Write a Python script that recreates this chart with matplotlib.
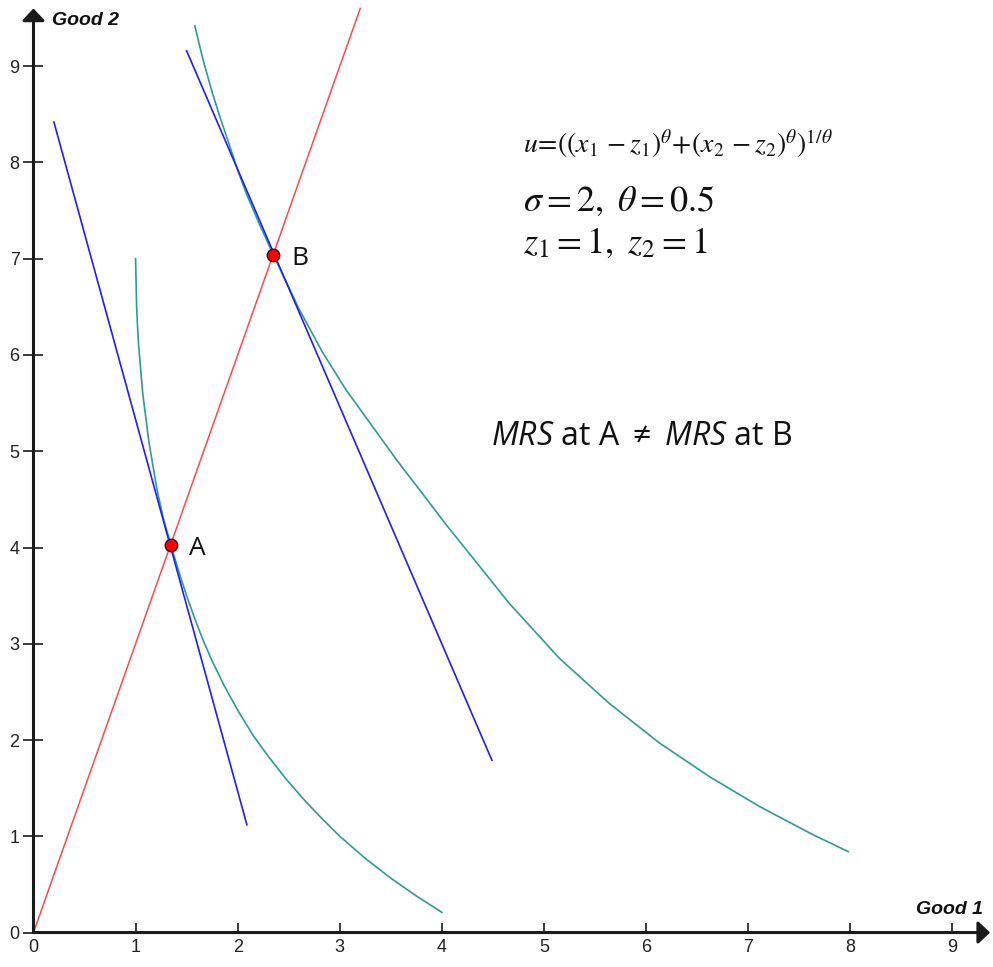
import matplotlib
matplotlib.use("Agg")
import matplotlib.pyplot as plt

# Ray from the origin through A and B
RAY_X = [0.0, 3.2]
RAY_Y = [0.0, 9.6]

# Budget (tangent) lines
BUDGET_A_X = [0.20, 2.09]
BUDGET_A_Y = [8.42, 1.12]
BUDGET_B_X = [1.50, 4.49]
BUDGET_B_Y = [9.16, 1.79]

# Indifference curves
IC_LOW_X = [1.00, 1.005, 1.01, 1.02, 1.03, 1.05, 1.07, 1.10, 1.13, 1.17, 1.21, 1.27, 1.345,
            1.40, 1.45, 1.51, 1.58, 1.66, 1.75, 1.87, 2.00, 2.15, 2.30, 2.47, 2.65, 2.82,
            3.00, 3.25, 3.50, 3.75, 4.00]
IC_LOW_Y = [7.00, 6.75, 6.50, 6.28, 6.10, 5.85, 5.60, 5.35, 5.10, 4.85, 4.60, 4.31, 4.03,
            3.83, 3.66, 3.47, 3.26, 3.04, 2.82, 2.56, 2.31, 2.05, 1.83, 1.60, 1.38, 1.19,
            1.00, 0.77, 0.565, 0.38, 0.21]
IC_HIGH_X = [1.58, 1.66, 1.75, 1.83, 1.91, 2.00, 2.08, 2.20, 2.345, 2.60, 2.83, 3.06, 3.55,
             4.04, 4.66, 5.15, 5.64, 6.13, 6.62, 7.11, 7.61, 7.98]
IC_HIGH_Y = [9.42, 9.07, 8.73, 8.46, 8.21, 7.92, 7.69, 7.39, 7.05, 6.48, 6.03, 5.64, 4.92,
             4.24, 3.42, 2.85, 2.38, 1.97, 1.62, 1.31, 1.03, 0.84]

POINT_LABELS = ["A", "B"]
POINT_X = [1.345, 2.345]
POINT_Y = [4.03, 7.04]

TICKS = [0, 1, 2, 3, 4, 5, 6, 7, 8, 9]

AXIS_COLOR = "#1a1a1a"
TEAL = "#2f9a9a"
BLUE = "#1e1eff"
RED = "#ff4a4a"

plt.rcParams["mathtext.fontset"] = "custom"
plt.rcParams["mathtext.rm"] = "Open Sans"
plt.rcParams["mathtext.it"] = "Open Sans:italic"

fig = plt.figure(figsize=(9.93, 9.67), dpi=100)
ax = fig.add_axes([0, 0, 1, 1])
ax.set_xlim(-0.328, 9.398)
ax.set_ylim(-0.358, 9.688)

for side in ("top", "right", "left", "bottom"):
    ax.spines[side].set_visible(False)
ax.spines["left"].set_position(("data", 0))
ax.spines["bottom"].set_position(("data", 0))

ax.set_xticks(TICKS)
ax.set_yticks(TICKS)
ax.set_xticklabels([str(t) for t in TICKS])
ax.set_yticklabels([str(t) for t in TICKS])
ax.tick_params(axis="x", direction="in", length=7.5, width=1.2, color=AXIS_COLOR,
               pad=5, labelsize=13, labelcolor="#222222")
ax.tick_params(axis="y", direction="inout", length=14, width=1.2, color=AXIS_COLOR,
               pad=3, labelsize=13, labelcolor="#222222")
for lab in ax.get_xticklabels() + ax.get_yticklabels():
    lab.set_fontfamily("Liberation Sans")

# axes with arrow heads
arrow = dict(arrowstyle="-|>,head_length=0.36,head_width=0.34", mutation_scale=20,
             color=AXIS_COLOR, lw=2.2, shrinkA=0, shrinkB=0)
ax.annotate("", xy=(9.37, 0), xytext=(0, 0), arrowprops=arrow)
ax.annotate("", xy=(0, 9.60), xytext=(0, 0), arrowprops=arrow)

ax.text(0.18, 9.48, "Good 2", fontsize=14, fontweight="bold", fontstyle="italic",
        family="Liberation Sans", ha="left", va="center", color="#111111")
ax.text(9.30, 0.24, "Good 1", fontsize=14, fontweight="bold", fontstyle="italic",
        family="Liberation Sans", ha="right", va="center", color="#111111")

ax.plot(IC_LOW_X, IC_LOW_Y, color=TEAL, lw=1.2)
ax.plot(IC_HIGH_X, IC_HIGH_Y, color=TEAL, lw=1.2)
ax.plot(BUDGET_A_X, BUDGET_A_Y, color=BLUE, lw=1.2)
ax.plot(BUDGET_B_X, BUDGET_B_Y, color=BLUE, lw=1.2)
ax.plot(RAY_X, RAY_Y, color=RED, lw=1.1)

ax.plot(POINT_X, POINT_Y, "o", color="#ff0000", markersize=9,
        markeredgecolor="#3a1010", markeredgewidth=1.0, zorder=5)
for lab, px, py in zip(POINT_LABELS, POINT_X, POINT_Y):
    ax.text(px + 0.18, py - 0.04, lab, fontsize=19, family="Open Sans",
            ha="left", va="center", color="#111111")

# annotations
ax.text(4.79, 8.10,
        r"$u\!=\!((x_1\,-z_1)^{\theta}\!+\!(x_2\,-z_2)^{\theta})^{1/\theta}$",
        fontsize=20, math_fontfamily="stix", ha="left", va="baseline", color="#111111")
ax.text(4.79, 7.50, r"$\sigma = 2,\ \theta = 0.5$",
        fontsize=26, math_fontfamily="stix", ha="left", va="baseline", color="#111111")
ax.text(4.79, 7.06, r"$z_1 = 1,\ z_2 = 1$",
        fontsize=26, math_fontfamily="stix", ha="left", va="baseline", color="#111111")
ax.text(4.48, 5.15, r"$\mathit{MRS}$ at A $\neq$ $\mathit{MRS}$ at B",
        fontsize=23, family="Open Sans", ha="left", va="center", color="#111111")

fig.savefig("out.png", dpi=100)
